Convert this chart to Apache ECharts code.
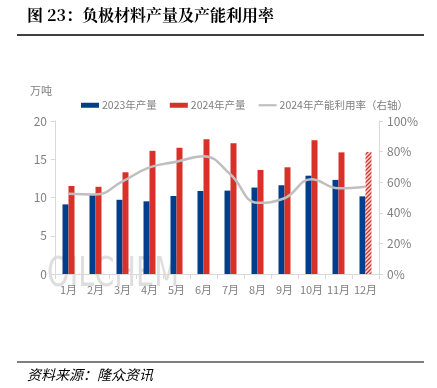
<!DOCTYPE html>
<html>
<head>
<meta charset="utf-8">
<script src="https://cdn.jsdelivr.net/npm/echarts@6/dist/echarts.min.js"></script>
<style>
html,body{margin:0;padding:0;background:#fff;}
#chart{width:437px;height:388px;}
</style>
</head>
<body>
<div id="chart"></div>
<script>
var categories = ['1月','2月','3月','4月','5月','6月','7月','8月','9月','10月','11月','12月'];
var prod2023 = [9.1, 10.4, 9.7, 9.5, 10.2, 10.85, 10.9, 11.3, 11.6, 12.85, 12.3, 10.15];
var prod2024 = [11.5, 11.4, 13.3, 16.1, 16.5, 17.6, 17.1, 13.6, 13.95, 17.5, 15.9, 15.95];
var util2024 = [52.5, 52, 60.5, 69.7, 73.4, 76.9, 65, 46.6, 49.5, 62, 56, 57];
var leftTicks = [0, 5, 10, 15, 20];
var rightTicks = [0, 20, 40, 60, 80, 100];
var estimatedIndex = 11;

var BLUE = '#003d8a';
var RED = '#d9302a';
var GREY = '#bfbfbf';
var TXT = '#7f7f7f';

function hatch() {
  var c = document.createElement('canvas');
  c.width = 4; c.height = 4;
  var x = c.getContext('2d');
  x.fillStyle = '#fbe0de';
  x.fillRect(0, 0, 4, 4);
  x.strokeStyle = RED;
  x.lineWidth = 1.4;
  x.beginPath();
  x.moveTo(0, 4); x.lineTo(4, 0);
  x.moveTo(-1, 1); x.lineTo(1, -1);
  x.moveTo(3, 5); x.lineTo(5, 3);
  x.stroke();
  return c;
}

var data2024 = prod2024.map(function (v, i) {
  if (i === estimatedIndex) {
    return { value: v, itemStyle: { color: { image: hatch(), repeat: 'repeat' } } };
  }
  return v;
});

var chart = echarts.init(document.getElementById('chart'), null, { renderer: 'canvas' });
var font = '"Microsoft YaHei","Noto Sans CJK SC",sans-serif';
chart.setOption({
  animation: false,
  textStyle: { fontFamily: font },
  grid: { left: 55, right: 58, top: 121, bottom: 114 },
  legend: {
    top: 95, left: 76, width: 360,
    itemWidth: 18, itemHeight: 5, itemGap: 13,
    textStyle: { color: TXT, fontSize: 10.5, fontFamily: font, padding: [0, 0, 0, -2] },
    data: [
      { name: '2023年产量', icon: 'rect' },
      { name: '2024年产量', icon: 'rect' },
      { name: '2024年产能利用率（右轴）', icon: 'path://M0,0 L18,0 L18,2.2 L0,2.2 Z' }
    ]
  },
  xAxis: {
    type: 'category',
    data: categories,
    axisLine: { lineStyle: { color: '#d9d9d9' } },
    axisTick: { show: true, lineStyle: { color: '#d9d9d9' } },
    axisLabel: { color: TXT, fontSize: 11, margin: 10, interval: 0 }
  },
  yAxis: [
    {
      type: 'value', min: leftTicks[0], max: leftTicks[leftTicks.length - 1], interval: 5,
      name: '万吨', nameLocation: 'end', nameGap: 25,
      nameTextStyle: { color: TXT, fontSize: 11, align: 'right', padding: [0, 3, 0, 0] },
      axisLine: { show: true, lineStyle: { color: '#d9d9d9' } },
      axisTick: { show: true, length: 4, lineStyle: { color: '#d9d9d9' } },
      axisLabel: { color: TXT, fontSize: 12, margin: 8 },
      splitLine: { show: false }
    },
    {
      type: 'value', min: rightTicks[0], max: rightTicks[rightTicks.length - 1], interval: 20,
      axisLine: { show: true, lineStyle: { color: '#d9d9d9' } },
      axisTick: { show: true, length: 4, lineStyle: { color: '#d9d9d9' } },
      axisLabel: { color: TXT, fontSize: 12, margin: 8, formatter: '{value}%' },
      splitLine: { show: false }
    }
  ],
  series: [
    {
      name: '2023年产量', type: 'bar', data: prod2023, barWidth: 6, barGap: '0%',
      itemStyle: { color: BLUE }
    },
    {
      name: '2024年产量', type: 'bar', data: data2024, barWidth: 6, barGap: '0%',
      itemStyle: { color: RED }
    },
    {
      name: '2024年产能利用率（右轴）', type: 'line', yAxisIndex: 1, data: util2024,
      smooth: 0.45, symbol: 'none', z: 5,
      lineStyle: { color: GREY, width: 2.5 },
      itemStyle: { color: GREY }
    }
  ],
  graphic: [
    {
      type: 'text', left: 27, top: 7, z: 10,
      style: { text: '图 23：负极材料产量及产能利用率', fill: '#000', font: 'bold 16px "Noto Serif CJK SC","Noto Sans CJK SC",serif' }
    },
    {
      type: 'line', z: 10,
      shape: { x1: 17, y1: 35, x2: 424, y2: 35 },
      style: { stroke: '#000', lineWidth: 1.5 }
    },
    {
      type: 'line', z: 10,
      shape: { x1: 17, y1: 362, x2: 424, y2: 362 },
      style: { stroke: '#000', lineWidth: 1.2 }
    },
    {
      type: 'text', left: 27, top: 368, z: 10,
      style: { text: '资料来源：隆众资讯', fill: '#000', font: 'italic 14px "Noto Sans CJK SC",sans-serif' }
    },
    {
      type: 'text', x: 47, y: 256, z: -1, scaleX: 0.72,
      style: {
        text: 'OILCHEM', font: '40px "DejaVu Sans",sans-serif',
        fill: 'rgba(200,200,200,0.6)'
      }
    }
  ]
});
</script>
</body>
</html>
